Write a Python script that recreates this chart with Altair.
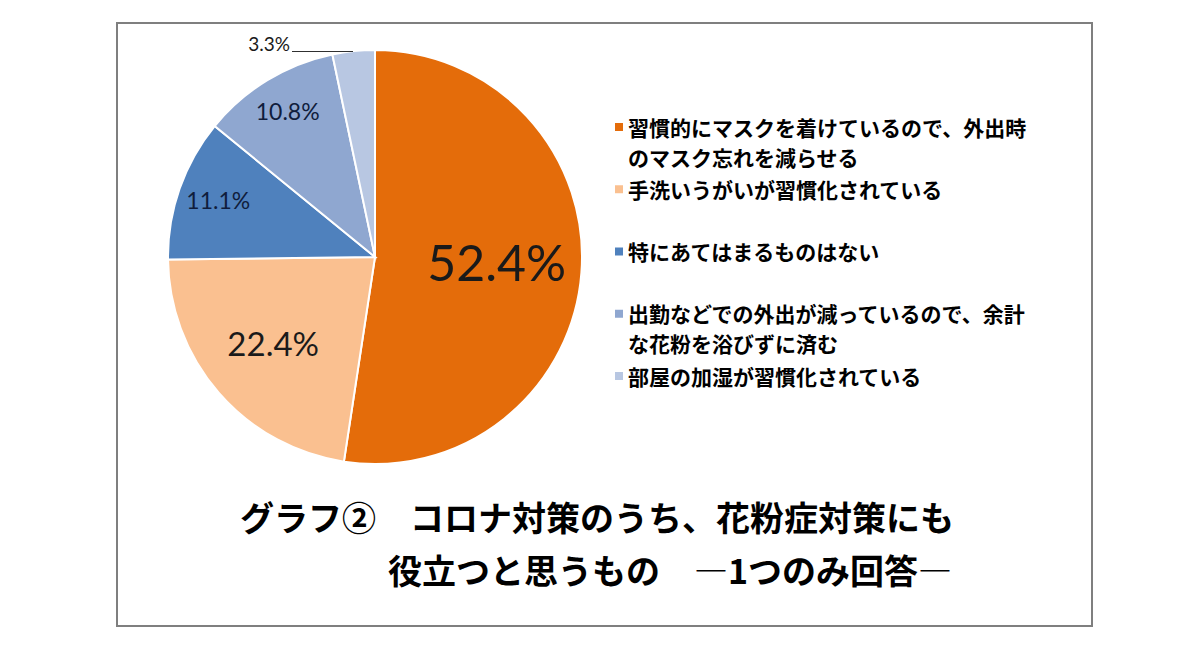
import altair as alt
import pandas as pd

# ---- data ----
categories = [
    "習慣的にマスクを着けているので、外出時のマスク忘れを減らせる",
    "手洗いうがいが習慣化されている",
    "特にあてはまるものはない",
    "出勤などでの外出が減っているので、余計な花粉を浴びずに済む",
    "部屋の加湿が習慣化されている",
]
values = [52.4, 22.4, 11.1, 10.8, 3.3]
value_labels = ["52.4%", "22.4%", "11.1%", "10.8%", "3.3%"]
legend_labels = [
    "習慣的にマスクを着けているので、外出時\nのマスク忘れを減らせる",
    "手洗いうがいが習慣化されている",
    "特にあてはまるものはない",
    "出勤などでの外出が減っているので、余計\nな花粉を浴びずに済む",
    "部屋の加湿が習慣化されている",
]
title_lines = ["グラフ②　コロナ対策のうち、花粉症対策にも", "役立つと思うもの　―1つのみ回答―"]

# ---- styling / layout ----
colors = ["#E46C0A", "#FAC090", "#4F81BD", "#8FA7D0", "#B8C7E2"]
label_radius = [122, 135, 166, 168, 213]
label_size = [50, 33, 23, 23, 19]
label_color = ["#1a1a1a", "#1a1a1a", "#101d3c", "#101d3c", "#1a1a1a"]
label_outside = [False, False, False, False, True]

CX, CY, R = 258, 234, 207
JP = "Noto Sans CJK JP"
total = sum(values)

pie_df = pd.DataFrame({
    "category": categories,
    "value": values,
    "order": list(range(len(values))),
    "inner": [("" if o else t) for t, o in zip(value_labels, label_outside)],
    "outer": [(t if o else "") for t, o in zip(value_labels, label_outside)],
    "lr": label_radius,
    "ls": label_size,
    "lc": label_color,
})

color_scale = alt.Scale(domain=categories, range=colors)
theta_scale = alt.Scale(domain=[0, total], range=[0, 6.283185307179586], zero=True)

base = alt.Chart(pie_df).transform_window(
    end="sum(value)", sort=[alt.SortField("order", order="ascending")], frame=[None, 0]
).transform_calculate(
    start="datum.end - datum.value",
    mid="datum.end - datum.value / 2",
)

arcs = base.mark_arc(outerRadius=R, stroke="white", strokeWidth=2).encode(
    theta=alt.Theta("start:Q", scale=theta_scale),
    theta2="end:Q",
    color=alt.Color("category:N", scale=color_scale, legend=None),
    x=alt.value(CX), y=alt.value(CY),
)

inner_labels = base.mark_text(font="Lato", baseline="middle", align="center").encode(
    theta=alt.Theta("mid:Q", scale=theta_scale),
    radius=alt.Radius("lr:Q", scale=None),
    text="inner:N",
    size=alt.Size("ls:Q", scale=None, legend=None),
    fill=alt.Fill("lc:N", scale=None, legend=None),
    x=alt.value(CX), y=alt.value(CY),
)

outer_labels = base.mark_text(font="Lato", baseline="middle", align="right",
                              dx=-63, fontSize=19, color="#1a1a1a").encode(
    theta=alt.Theta("mid:Q", scale=theta_scale),
    radius=alt.Radius("lr:Q", scale=None),
    text="outer:N",
    x=alt.value(CX), y=alt.value(CY),
)

leader = alt.Chart(pd.DataFrame({"a": [0]})).mark_rule(color="#303030", strokeWidth=1).encode(
    x=alt.value(175), x2=alt.value(236), y=alt.value(28.5)
)

leg_df = pd.DataFrame({
    "category": categories,
    "legend": legend_labels,
    "order": list(range(len(categories))),
})
leg_y = alt.Y("order:O", scale=alt.Scale(type="point", range=[104, 353], padding=0), axis=None)

leg_squares = alt.Chart(leg_df).mark_square(size=64, opacity=1, filled=True).encode(
    x=alt.value(502), y=leg_y,
    color=alt.Color("category:N", scale=color_scale, legend=None),
)
leg_text = alt.Chart(leg_df).mark_text(
    align="left", baseline="alphabetic", dy=8.5, lineBreak="\n", lineHeight=30,
    fontSize=21, font=JP, fontWeight="bold", color="black",
).encode(x=alt.value(511), y=leg_y, text="legend:N")

title1 = alt.Chart(pd.DataFrame({"t": [title_lines[0]]})).mark_text(
    align="left", baseline="alphabetic", fontSize=34, font=JP, fontWeight="bold", color="black"
).encode(x=alt.value(123), y=alt.value(508), text="t:N")
title2 = alt.Chart(pd.DataFrame({"t": [title_lines[1]]})).mark_text(
    align="left", baseline="alphabetic", fontSize=34, font=JP, fontWeight="bold", color="black"
).encode(x=alt.value(271), y=alt.value(561), text="t:N")

chart = alt.layer(
    arcs, inner_labels, outer_labels, leader, leg_squares, leg_text, title1, title2
).properties(
    width=975, height=603,
    padding={"left": 109, "top": 15, "right": 100, "bottom": 16},
    autosize="none",
    background="white",
).configure_view(stroke="#7f7f7f", strokeWidth=2)

chart.save("out.html", embed_options={"renderer": "svg", "actions": False})
